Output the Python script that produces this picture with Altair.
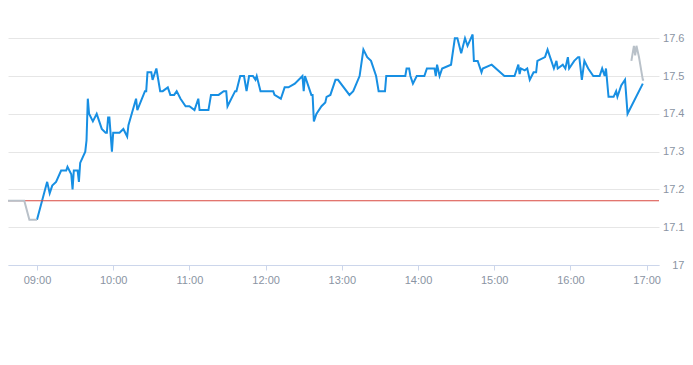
import altair as alt
import pandas as pd

DAY = "2024-01-02"

# Regular session (blue)
blue_times = [
    "09:00", "09:08", "09:10", "09:12", "09:15", "09:19", "09:23", "09:24", "09:27", "09:28",
    "09:29", "09:32", "09:33", "09:34", "09:38", "09:39", "09:40", "09:41", "09:44", "09:47",
    "09:51", "09:54", "09:55", "09:56", "09:57", "09:59", "10:00", "10:05", "10:08", "10:11",
    "10:12", "10:18", "10:19", "10:25", "10:26", "10:27", "10:30", "10:31", "10:34", "10:37",
    "10:39", "10:43", "10:45", "10:48", "10:50", "10:53", "10:57", "11:00", "11:04", "11:07",
    "11:08", "11:15", "11:17", "11:23", "11:27", "11:29", "11:30", "11:36", "11:37", "11:40",
    "11:43", "11:45", "11:47", "11:50", "11:52", "11:53", "11:56", "12:06", "12:07", "12:12",
    "12:15", "12:18", "12:23", "12:29", "12:30", "12:31", "12:36", "12:37", "12:38", "12:40",
    "12:44", "12:47", "12:48", "12:51", "12:55", "12:57", "13:06", "13:09", "13:14", "13:17",
    "13:20", "13:23", "13:27", "13:29", "13:34", "13:35", "13:50", "13:51", "13:53", "13:54",
    "13:56", "13:59", "14:05", "14:07", "14:13", "14:14", "14:15", "14:17", "14:19", "14:26",
    "14:29", "14:31", "14:34", "14:37", "14:39", "14:43", "14:44", "14:47", "14:50", "14:51",
    "14:58", "15:08", "15:16", "15:19", "15:20", "15:21", "15:24", "15:26", "15:28", "15:31",
    "15:33", "15:34", "15:40", "15:42", "15:45", "15:47", "15:49", "15:50", "15:54", "15:56",
    "15:58", "15:59", "16:03", "16:06", "16:07", "16:09", "16:11", "16:14", "16:18", "16:23",
    "16:25", "16:27", "16:28", "16:30", "16:34", "16:36", "16:37", "16:40", "16:43", "16:45",
    "16:57",
]
blue_prices = [
    17.12, 17.22, 17.19, 17.21, 17.22, 17.25, 17.25, 17.26, 17.24, 17.20,
    17.25, 17.25, 17.22, 17.27, 17.30, 17.33, 17.44, 17.40, 17.38, 17.40,
    17.36, 17.35, 17.35, 17.39, 17.39, 17.30, 17.35, 17.35, 17.36, 17.34,
    17.37, 17.44, 17.41, 17.46, 17.46, 17.51, 17.51, 17.49, 17.52, 17.46,
    17.46, 17.47, 17.45, 17.45, 17.46, 17.44, 17.42, 17.42, 17.41, 17.44,
    17.41, 17.41, 17.45, 17.45, 17.46, 17.46, 17.42, 17.46, 17.46, 17.50,
    17.50, 17.46, 17.50, 17.50, 17.49, 17.50, 17.46, 17.46, 17.45, 17.44,
    17.47, 17.47, 17.48, 17.50, 17.46, 17.50, 17.45, 17.45, 17.38, 17.40,
    17.42, 17.43, 17.445, 17.45, 17.49, 17.49, 17.45, 17.46, 17.50, 17.57,
    17.55, 17.54, 17.50, 17.46, 17.46, 17.50, 17.50, 17.52, 17.52, 17.50,
    17.48, 17.50, 17.50, 17.52, 17.52, 17.50, 17.53, 17.50, 17.52, 17.53,
    17.60, 17.60, 17.56, 17.60, 17.58, 17.61, 17.54, 17.54, 17.51, 17.52,
    17.53, 17.50, 17.50, 17.53, 17.505, 17.52, 17.515, 17.52, 17.49, 17.51,
    17.51, 17.54, 17.55, 17.57, 17.54, 17.52, 17.54, 17.52, 17.53, 17.52,
    17.55, 17.52, 17.54, 17.55, 17.55, 17.49, 17.54, 17.52, 17.50, 17.50,
    17.52, 17.50, 17.52, 17.445, 17.445, 17.46, 17.445, 17.475, 17.49, 17.40,
    17.48,
]

# Pre-market (grey)
pre_times = ["08:30", "08:50", "08:54", "09:00"]
pre_prices = [17.17, 17.17, 17.12, 17.12]

# Post-market (grey)
post_times = ["16:48", "16:50", "16:51", "16:52", "16:54", "16:57", "16:58"]
post_prices = [17.54, 17.58, 17.555, 17.58, 17.55, 17.49, 17.49]

prev_close = 17.17

y_ticks = [17.0, 17.1, 17.2, 17.3, 17.4, 17.5, 17.6]
x_tick_hours = [9, 10, 11, 12, 13, 14, 15, 16, 17]


def frame(times, prices):
    return pd.DataFrame({"t": [f"{DAY}T{t}:00" for t in times], "p": prices})


def dt(h, m, s=0):
    return alt.DateTime(year=2024, month=1, date=2, hours=h, minutes=m, seconds=s)


LABEL = "#8a94a3"
FONT = "Liberation Sans"

x_enc = alt.X(
    "t:T",
    scale=alt.Scale(domain=[dt(8, 37, 10), dt(17, 9, 45)], nice=False),
    axis=alt.Axis(
        title=None,
        format="%H:%M",
        values=[dt(h, 0) for h in x_tick_hours],
        grid=False,
        domainColor="#ccd6eb",
        tickColor="#ccd6eb",
        tickSize=5,
        labelPadding=4,
        labelColor=LABEL,
        labelFont=FONT,
        labelFontSize=11,
    ),
)
y_enc = alt.Y(
    "p:Q",
    scale=alt.Scale(domain=[17.0, 17.68], nice=False, zero=False),
    axis=alt.Axis(
        title=None,
        orient="right",
        values=y_ticks,
        format=".1~f",
        grid=True,
        gridColor="#e6e6e6",
        domain=False,
        ticks=False,
        tickSize=0,
        labelAlign="right",
        labelPadding=25,
        labelColor=LABEL,
        labelFont=FONT,
        labelFontSize=11,
    ),
)

blue = alt.Chart(frame(blue_times, blue_prices)).mark_line(
    color="#178fe3", strokeWidth=2, clip=True
).encode(x=x_enc, y=y_enc)

pre = alt.Chart(frame(pre_times, pre_prices)).mark_line(
    color="#b9c1c9", strokeWidth=2, clip=True
).encode(x="t:T", y="p:Q")

post = alt.Chart(frame(post_times, post_prices)).mark_line(
    color="#b9c1c9", strokeWidth=2, clip=True
).encode(x="t:T", y="p:Q")

rule = alt.Chart(pd.DataFrame({"p": [prev_close]})).mark_rule(
    color="#d9473f", strokeWidth=1
).encode(y="p:Q")

chart = alt.layer(blue, rule, pre, post).properties(
    width=651,
    height=257,
    autosize=alt.AutoSizeParams(type="none"),
    padding={"left": 0, "top": 0, "right": 26, "bottom": 40},
).configure_view(stroke=None)

chart.save("out.html", embed_options={"renderer": "svg", "actions": False})
